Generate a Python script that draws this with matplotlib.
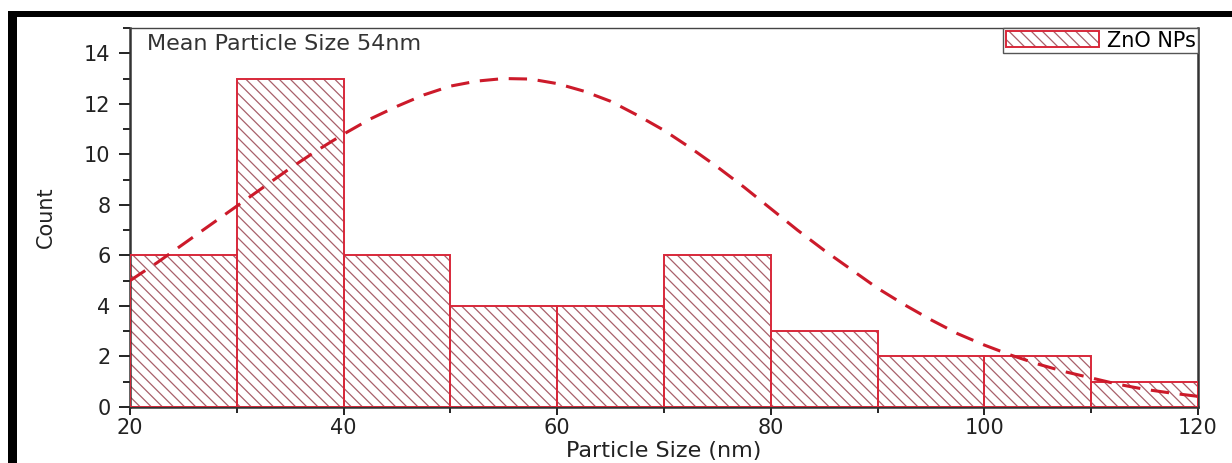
import numpy as np
import matplotlib
matplotlib.use("Agg")
import matplotlib.pyplot as plt
from matplotlib.patches import Rectangle
from matplotlib.legend_handler import HandlerTuple
from matplotlib.ticker import MultipleLocator

plt.rcParams['font.family'] = ['DejaVu Sans']
plt.rcParams['hatch.linewidth'] = 0.9

# histogram data
bin_edges = [20, 30, 40, 50, 60, 70, 80, 90, 100, 110, 120]
counts = [6, 13, 6, 4, 4, 6, 3, 2, 2, 1]

# fitted distribution curve
curve_x = [20, 22.5, 25, 27.5, 30, 32.5, 35, 37.5, 40, 42.5, 45, 47.5, 50,
           52.5, 55, 57.5, 60, 62.5, 65, 67.5, 70, 72.5, 75, 77.5, 80,
           82.5, 85, 87.5, 90, 92.5, 95, 97.5, 100, 102.5, 105, 107.5, 110,
           112.5, 115, 117.5, 120]
curve_y = [5.0, 5.7, 6.45, 7.2, 7.95, 8.7, 9.45, 10.15, 10.8, 11.4, 11.9, 12.35, 12.7,
           12.9, 13.0, 12.98, 12.8, 12.5, 12.1, 11.55, 10.95, 10.25, 9.5, 8.7, 7.85,
           7.0, 6.2, 5.45, 4.7, 4.05, 3.45, 2.9, 2.45, 2.05, 1.7, 1.4, 1.15,
           0.9, 0.7, 0.55, 0.42]

fig = plt.figure(figsize=(12.32, 4.63), dpi=100)
ax = fig.add_axes([0.1055, 0.121, 0.8669, 0.8185])

lefts = np.array(bin_edges[:-1])
widths = np.diff(bin_edges)

hatch_bars = ax.bar(lefts, counts, width=widths, align='edge', color='white',
                    edgecolor='#a8606a', hatch='\\\\\\', linewidth=0, zorder=2)
edge_bars = ax.bar(lefts, counts, width=widths, align='edge', fill=False,
                   edgecolor='#d8283a', linewidth=1.4, zorder=3)

ax.plot(curve_x, curve_y, color='#cc1a2a', linewidth=2.2, dashes=(6, 3.5), zorder=4)

ax.set_xlim(20, 120)
ax.set_ylim(0, 15)
ax.xaxis.set_major_locator(MultipleLocator(20))
ax.xaxis.set_minor_locator(MultipleLocator(10))
ax.set_yticks(range(0, 15, 2))
ax.yaxis.set_minor_locator(MultipleLocator(1))

ax.tick_params(axis='both', which='major', labelsize=15, colors='#222222')
ax.tick_params(axis='y', which='major', length=8, width=1.4, pad=6)
ax.tick_params(axis='y', which='minor', length=5, width=1.2)
ax.tick_params(axis='x', which='major', length=6, width=1.4, pad=2)
ax.tick_params(axis='x', which='minor', length=4, width=1.2)

for side in ['left', 'bottom', 'right']:
    ax.spines[side].set_linewidth(1.8)
    ax.spines[side].set_color('#333333')
ax.spines['top'].set_linewidth(1.0)
ax.spines['top'].set_color('#444444')

ax.set_xlabel('Particle Size (nm)', fontsize=16, color='#222222', labelpad=2)
ax.set_ylabel('Count', fontsize=15, color='#222222', labelpad=20)

ax.text(0.016, 0.985, 'Mean Particle Size 54nm', transform=ax.transAxes,
        fontsize=16, color='#333333', va='top', ha='left')

leg = ax.legend([(hatch_bars[0], edge_bars[0])], ['ZnO NPs'],
                handler_map={tuple: HandlerTuple(ndivide=1)},
                loc='upper right', borderaxespad=0, fontsize=15,
                handlelength=4.5, handleheight=0.8, handletextpad=0.35,
                borderpad=0.12, fancybox=False, framealpha=1)
leg.get_frame().set_edgecolor('#555555')
leg.get_frame().set_linewidth(1.0)

# black frame on the top and left of the picture
fig.patches.append(Rectangle((0.0065, 0.9633), 0.9935, 0.0129, transform=fig.transFigure,
                             facecolor='black', edgecolor='none'))
fig.patches.append(Rectangle((0.0065, 0.0), 0.0073, 0.9762, transform=fig.transFigure,
                             facecolor='black', edgecolor='none'))

fig.savefig('out.png', dpi=100)
